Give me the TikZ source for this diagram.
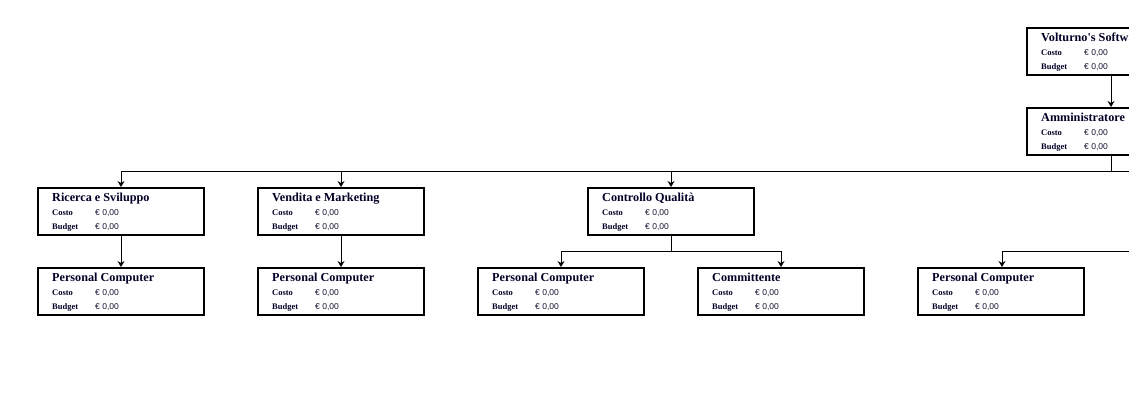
\documentclass[tikz,border=0pt]{standalone}
\usepackage{fontspec}
\setmainfont{Liberation Serif}
\setsansfont{Liberation Sans}
\usetikzlibrary{arrows.meta,calc}
\definecolor{ink}{RGB}{0,0,38}
\definecolor{valink}{RGB}{20,20,50}
\tikzset{
  orgbox/.style={draw=black, line width=2pt, minimum width=166pt, minimum height=47pt, inner sep=0pt, outer sep=1pt, anchor=north west},
  ttl/.style={anchor=base west, inner sep=0pt, text=ink, font=\bfseries\fontsize{12.2}{14}\selectfont},
  lbl/.style={anchor=base west, inner sep=0pt, text=ink, font=\bfseries\fontsize{8.5}{10}\selectfont},
  val/.style={anchor=base west, inner sep=0pt, text=valink, font=\sffamily\fontsize{8.5}{10}\selectfont},
  conn/.style={draw=black, line width=1pt},
  arr/.style={conn, -{Stealth[length=6pt,width=7pt,inset=2pt]}}
}
\newcommand{\orgunit}[4]{%
  \node[orgbox] (#1) at (#2,#3) {};
  \node[ttl] (#1t) at ($(#1.north west)+(15,14.5)$) {#4};
  \node[lbl] (#1c) at ($(#1.north west)+(15,28.5)$) {Costo};
  \node[lbl] (#1b) at ($(#1.north west)+(15,42.5)$) {Budget};
  \node[val] (#1cv) at ($(#1.north west)+(58,28.5)$) {€ 0,00};
  \node[val] (#1bv) at ($(#1.north west)+(58,42.5)$) {€ 0,00};
}
\begin{document}
\begin{tikzpicture}[x=1pt,y=-1pt]
\useasboundingbox (0,0) rectangle (1129,409);
\clip (0,0) rectangle (1129,409);
\fill[white] (0,0) rectangle (1129,409);
\orgunit{vol}{1026}{27}{Volturno\textquotesingle s Software}
\orgunit{adm}{1026}{107}{Amministratore}
\orgunit{ric}{37}{187}{Ricerca e Sviluppo}
\orgunit{ven}{257}{187}{Vendita e Marketing}
\orgunit{con}{587}{187}{Controllo Qualità}
\orgunit{pca}{37}{267}{Personal Computer}
\orgunit{pcb}{257}{267}{Personal Computer}
\orgunit{pcc}{477}{267}{Personal Computer}
\orgunit{com}{697}{267}{Committente}
\orgunit{pcd}{917}{267}{Personal Computer}
\coordinate (bus) at (1111,171);
\coordinate (busR) at (1160,171);
\coordinate (cq) at (671,251);
\coordinate (rb) at (1160,251);
\draw[arr] (vol.south -| bus) -- (adm.north -| bus);
\draw[conn] (adm.south -| bus) -- (bus);
\draw[conn] (bus) -- (busR);
\draw[arr] (bus) -| (ric.north -| 121,0);
\draw[arr] (bus) -| (ven.north -| 341,0);
\draw[arr] (bus) -| (con.north -| 671,0);
\draw[arr] (ric.south -| 121,0) -- (pca.north -| 121,0);
\draw[arr] (ven.south -| 341,0) -- (pcb.north -| 341,0);
\draw[conn] (con.south -| cq) -- (cq);
\draw[arr] (cq) -| (pcc.north -| 561,0);
\draw[arr] (cq) -| (com.north -| 781,0);
\draw[arr] (rb) -| (pcd.north -| 1002,0);
\end{tikzpicture}
\end{document}
